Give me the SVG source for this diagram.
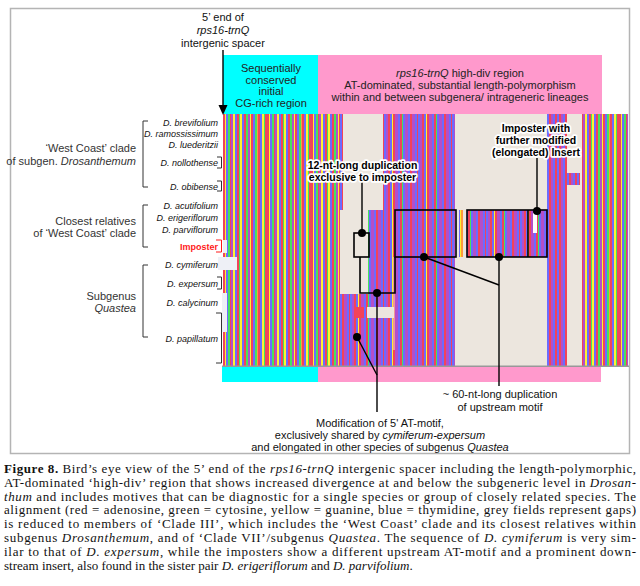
<svg xmlns="http://www.w3.org/2000/svg" width="640" height="586" viewBox="0 0 640 586">
<defs>
<style>
.sans{font-family:"Liberation Sans",Arial,sans-serif}
.grp{font-size:11px;fill:#333;text-anchor:end}
.sp{font-size:9px;font-style:italic;fill:#111;text-anchor:end}
.reg{font-size:11px;fill:#222;text-anchor:middle}
.call{font-size:10.5px;font-weight:bold;fill:#000;text-anchor:middle;stroke:#fff;stroke-width:3.5;paint-order:stroke;stroke-linejoin:round}
.note{font-size:11px;fill:#111;text-anchor:middle}
.cap{font-family:"Liberation Serif","Times New Roman",serif;font-size:13px;fill:#111}
.ln{stroke:#000;stroke-width:1.4;fill:none}
.bx{stroke:#000;stroke-width:1.6;fill:none}
.br{stroke:#333;stroke-width:1;fill:none}
.gap{fill:#ECE6DE}
.lt{fill:#EEF0F6}
.R{fill:#F2435A}.B{fill:#6B6BFF}.G{fill:#46E35C}.Y{fill:#FFF230}.P{fill:#B34FC9}.O{fill:#FF9A3C}
</style>
<pattern id="pA" patternUnits="userSpaceOnUse" x="223" y="0" width="44" height="600">
<rect class="R" x="0" width="2" height="600"/><rect class="Y" x="2" width="1" height="600"/><rect class="B" x="3" width="2" height="600"/><rect class="G" x="5" width="2" height="600"/><rect class="R" x="7" width="1" height="600"/><rect class="P" x="8" width="2" height="600"/><rect class="Y" x="10" width="2" height="600"/><rect class="B" x="12" width="2" height="600"/><rect class="R" x="14" width="2" height="600"/><rect class="G" x="16" width="1" height="600"/><rect class="Y" x="17" width="2" height="600"/><rect class="B" x="19" width="2" height="600"/><rect class="R" x="21" width="2" height="600"/><rect class="G" x="23" width="2" height="600"/><rect class="P" x="25" width="2" height="600"/><rect class="Y" x="27" width="1" height="600"/><rect class="R" x="28" width="2" height="600"/><rect class="B" x="30" width="2" height="600"/><rect class="G" x="32" width="2" height="600"/><rect class="O" x="34" width="1" height="600"/><rect class="R" x="35" width="2" height="600"/><rect class="B" x="37" width="2" height="600"/><rect class="Y" x="39" width="2" height="600"/><rect class="G" x="41" width="1" height="600"/><rect class="R" x="42" width="2" height="600"/>
</pattern>
<pattern id="pB" patternUnits="userSpaceOnUse" x="340" y="0" width="34" height="600">
<rect class="B" x="0" width="2" height="600"/><rect class="R" x="2" width="2" height="600"/><rect class="P" x="4" width="3" height="600"/><rect class="B" x="7" width="2" height="600"/><rect class="R" x="9" width="1" height="600"/><rect class="B" x="10" width="2" height="600"/><rect class="P" x="12" width="2" height="600"/><rect class="R" x="14" width="2" height="600"/><rect class="B" x="16" width="2" height="600"/><rect class="Y" x="18" width="1" height="600"/><rect class="R" x="19" width="2" height="600"/><rect class="P" x="21" width="3" height="600"/><rect class="B" x="24" width="2" height="600"/><rect class="R" x="26" width="2" height="600"/><rect class="G" x="28" width="1" height="600"/><rect class="B" x="29" width="2" height="600"/><rect class="P" x="31" width="3" height="600"/>
</pattern>
<pattern id="pC" patternUnits="userSpaceOnUse" x="547" y="0" width="10" height="600">
<rect class="B" x="0" width="2" height="600"/><rect class="R" x="2" width="2" height="600"/><rect class="P" x="4" width="2" height="600"/><rect class="B" x="6" width="2" height="600"/><rect class="R" x="8" width="2" height="600"/>
</pattern>
</defs>
<rect width="640" height="586" fill="#fff"/>
<rect x="10.5" y="8.5" width="619" height="445" fill="#fff" stroke="#b4b4b4" stroke-width="1.5"/>

<g id="regions">
<rect x="223" y="55" width="95" height="59" fill="#00FFFF"/>
<rect x="318" y="55" width="284" height="59" fill="#FF99CC"/>
<rect x="222" y="367" width="96" height="15" fill="#00FFFF"/>
<rect x="318" y="367" width="283" height="15" fill="#FF99CC"/>
<g class="sans">
<text class="reg" x="271" y="72">Sequentially</text>
<text class="reg" x="271" y="83.5">conserved</text>
<text class="reg" x="271" y="95">initial</text>
<text class="reg" x="271" y="106.5">CG-rich region</text>
<text class="reg" x="460" y="77"><tspan font-style="italic">rps16-trnQ</tspan> high-div region</text>
<text class="reg" x="460" y="89">AT-dominated, substantial length-polymorphism</text>
<text class="reg" x="460" y="101">within and between subgenera/ intrageneric lineages</text>
</g>
</g>

<g id="alignment">
<rect x="223" y="114" width="117" height="252" fill="url(#pA)"/>
<rect x="340" y="114" width="115" height="252" fill="url(#pB)"/>
<rect class="gap" x="455" y="114" width="92" height="252"/>
<rect x="547" y="114" width="20" height="252" fill="url(#pC)"/>
<rect class="gap" x="567" y="114" width="15" height="252"/>
<rect x="567" y="173" width="13" height="12" fill="url(#pC)"/>
<rect x="582" y="114" width="46" height="252" fill="url(#pA)"/>
<rect class="gap" x="343" y="114" width="40" height="96"/>
<rect class="gap" x="340" y="210" width="28" height="84"/>
<rect class="gap" x="367" y="307" width="27" height="11"/>
<rect class="R" x="356" y="307" width="3" height="11"/>
<rect class="R" x="361" y="307" width="3" height="11"/>
<rect class="gap" x="393.5" y="257" width="1" height="93"/>
<rect x="457" y="210" width="90" height="47" fill="url(#pB)"/>
<rect class="gap" x="457" y="210" width="2" height="47"/>
<rect class="O" x="461" y="210" width="2" height="47"/>
<rect class="gap" x="463" y="210" width="4" height="47"/>
<rect fill="#fff" x="533" y="213" width="4" height="20"/>
<rect class="lt" x="218" y="257" width="19" height="13"/>
<rect class="lt" x="223" y="240" width="4" height="13"/>
<rect class="lt" x="222" y="293" width="5" height="39"/>
<rect x="222" y="365.5" width="407" height="1.5" fill="#999"/>
</g>

<g id="labels" class="sans">
<text class="grp" x="136" y="152">‘West Coast’ clade</text>
<text class="grp" x="136" y="165">of subgen. <tspan font-style="italic">Drosanthemum</tspan></text>
<text class="grp" x="136" y="225">Closest relatives</text>
<text class="grp" x="136" y="237">of ‘West Coast’ clade</text>
<text class="grp" x="136" y="300">Subgenus</text>
<text class="grp" x="136" y="311.5" font-style="italic">Quastea</text>
<text class="sp" x="218" y="125.5">D. brevifolium</text>
<text class="sp" x="218" y="136.5">D. ramossissimum</text>
<text class="sp" x="218" y="147.5">D. luederitzii</text>
<text class="sp" x="218" y="165.5">D. nollothense</text>
<text class="sp" x="218" y="190">D. obibense</text>
<text class="sp" x="218" y="209">D. acutifolium</text>
<text class="sp" x="218" y="221">D. erigeriflorum</text>
<text class="sp" x="218" y="233">D. parviflorum</text>
<text x="218" y="250" font-size="9" font-weight="bold" fill="#FF1A1A" text-anchor="end">Imposter</text>
<text class="sp" x="218" y="267.5">D. cymiferum</text>
<text class="sp" x="218" y="286.5">D. expersum</text>
<text class="sp" x="218" y="305.5">D. calycinum</text>
<text class="sp" x="218" y="341.5">D. papillatum</text>
<path class="br" d="M148,121H143V187H148M148,205H143V247H148M148,265H143V337H148"/>
<path class="br" d="M217,157H221.5V168H217M217,181H221.5V191H217M217,277H221.5V289H217M216,313H221.5V363H216"/>
<path d="M216,240H221.5V252H216" stroke="#FF1A1A" stroke-width="1" fill="none"/>
</g>

<g id="top-annotation" class="sans">
<text class="note" x="223" y="21">5’ end of</text>
<text class="note" x="223" y="34" font-style="italic">rps16-trnQ</text>
<text class="note" x="223" y="46.5">intergenic spacer</text>
</g>

<g id="connectors">
<line class="ln" x1="223" y1="50" x2="223" y2="107" stroke-width="1.8"/>
<polygon points="218.5,105 227.5,105 223,115" fill="#000"/>
<rect class="bx" x="354" y="233" width="15" height="24"/>
<rect class="bx" x="395" y="210" width="61" height="47"/>
<rect class="bx" x="467" y="210" width="80" height="47"/>
<line class="bx" x1="528" y1="210" x2="528" y2="257"/>
<path class="bx" d="M360,257V293H395V257"/>
<line class="ln" x1="362" y1="182" x2="362" y2="233"/>
<line class="ln" x1="377" y1="293" x2="377" y2="412"/>
<line class="ln" x1="357" y1="337" x2="377" y2="375"/>
<line class="ln" x1="424" y1="257" x2="499" y2="285"/>
<line class="ln" x1="499" y1="257" x2="499" y2="386"/>
<line class="ln" x1="537" y1="158" x2="537" y2="211"/>
<circle cx="362" cy="233" r="4"/>
<circle cx="377" cy="293" r="4"/>
<circle cx="357" cy="337" r="4"/>
<circle cx="424" cy="257" r="4"/>
<circle cx="499" cy="257" r="4"/>
<circle cx="537" cy="211" r="4"/>
</g>

<g id="callouts" class="sans">
<text class="call" x="362.5" y="169">12-nt-long duplication</text>
<text class="call" x="362.5" y="180.5">exclusive to imposter</text>
<text class="call" x="536" y="132">Imposter with</text>
<text class="call" x="536" y="144">further modified</text>
<text class="call" x="536" y="156">(elongated) Insert</text>
<text class="note" x="500" y="398">~ 60-nt-long duplication</text>
<text class="note" x="500" y="410.5">of upstream motif</text>
<text class="note" x="380" y="427">Modification of 5' AT-motif,</text>
<text class="note" x="380" y="439">exclusively shared by <tspan font-style="italic">cymiferum-expersum</tspan></text>
<text class="note" x="380" y="451">and elongated in other species of subgenus <tspan font-style="italic">Quastea</tspan></text>
</g>

<g id="caption" class="cap">
<text x="4" y="473" textLength="632" lengthAdjust="spacing"><tspan font-weight="bold">Figure 8.</tspan> Bird’s eye view of the 5’ end of the <tspan font-style="italic">rps16-trnQ</tspan> intergenic spacer including the length-polymorphic,</text>
<text x="4" y="486.8" textLength="632" lengthAdjust="spacing">AT-dominated ‘high-div’ region that shows increased divergence at and below the subgeneric level in <tspan font-style="italic">Drosan-</tspan></text>
<text x="4" y="500.6" textLength="632" lengthAdjust="spacing"><tspan font-style="italic">thum</tspan> and includes motives that can be diagnostic for a single species or group of closely related species. The</text>
<text x="4" y="514.4" textLength="632" lengthAdjust="spacing">alignment (red = adenosine, green = cytosine, yellow = guanine, blue = thymidine, grey fields represent gaps)</text>
<text x="4" y="528.2" textLength="632" lengthAdjust="spacing">is reduced to members of ‘Clade III’, which includes the ‘West Coast’ clade and its closest relatives within</text>
<text x="4" y="542" textLength="632" lengthAdjust="spacing">subgenus <tspan font-style="italic">Drosanthemum</tspan>, and of ‘Clade VII’/subgenus <tspan font-style="italic">Quastea</tspan>. The sequence of <tspan font-style="italic">D. cymiferum</tspan> is very sim-</text>
<text x="4" y="555.8" textLength="632" lengthAdjust="spacing">ilar to that of <tspan font-style="italic">D. expersum</tspan>, while the imposters show a different upstream AT-motif and a prominent down-</text>
<text x="4" y="569.6">stream insert, also found in the sister pair <tspan font-style="italic">D. erigeriflorum</tspan> and <tspan font-style="italic">D. parvifolium</tspan>.</text>
</g>
</svg>
